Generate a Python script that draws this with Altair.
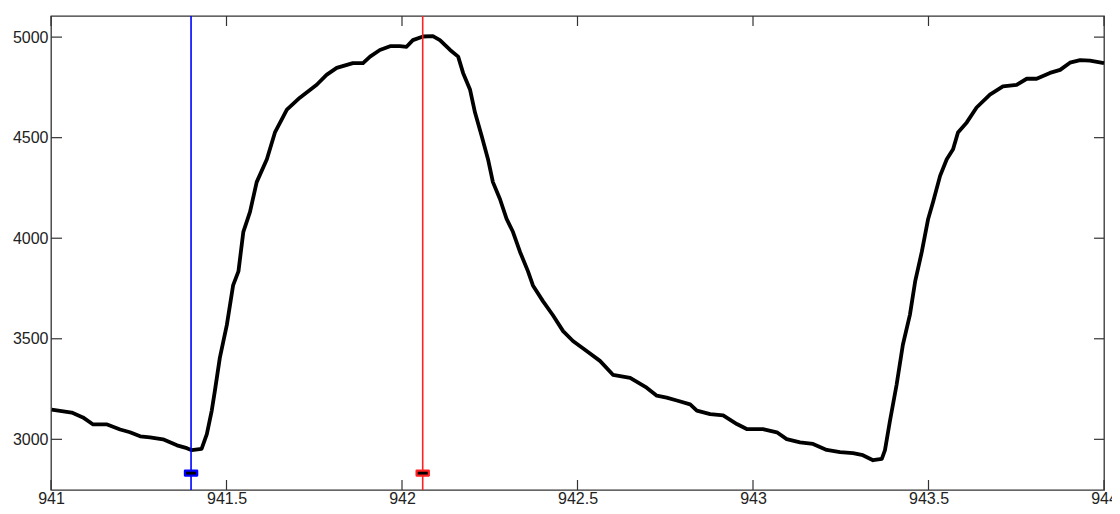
import altair as alt
import pandas as pd

# Trace data (time, value)
t = [941.002, 941.059, 941.091, 941.120, 941.160, 941.197, 941.225, 941.254, 941.282, 941.319,
     941.359, 941.387, 941.401, 941.429, 941.444, 941.458, 941.467, 941.481, 941.501, 941.519,
     941.534, 941.548, 941.567, 941.586, 941.615, 941.638, 941.662, 941.672, 941.709, 941.757,
     941.785, 941.814, 941.860, 941.889, 941.909, 941.937, 941.966, 941.994, 942.013, 942.031,
     942.060, 942.088, 942.108, 942.137, 942.160, 942.174, 942.194, 942.208, 942.227, 942.245,
     942.259, 942.279, 942.298, 942.316, 942.336, 942.359, 942.373, 942.402, 942.430, 942.459,
     942.487, 942.526, 942.564, 942.601, 942.650, 942.697, 942.726, 942.754, 942.783, 942.821,
     942.840, 942.878, 942.915, 942.954, 942.982, 943.028, 943.068, 943.096, 943.134, 943.171,
     943.210, 943.248, 943.285, 943.313, 943.342, 943.367, 943.376, 943.390, 943.409, 943.427,
     943.447, 943.462, 943.481, 943.499, 943.513, 943.533, 943.552, 943.570, 943.584, 943.609,
     943.637, 943.675, 943.712, 943.751, 943.780, 943.808, 943.846, 943.875, 943.903, 943.932,
     943.960, 944.000]
v = [3148, 3133, 3109, 3074, 3074, 3049, 3035, 3015, 3010, 3000,
     2970, 2956, 2946, 2952, 3026, 3143, 3242, 3405, 3569, 3767,
     3835, 4032, 4131, 4279, 4393, 4526, 4606, 4639, 4699, 4763,
     4812, 4847, 4871, 4871, 4903, 4936, 4955, 4955, 4952, 4985,
     5003, 5005, 4985, 4936, 4903, 4822, 4738, 4625, 4508, 4393,
     4279, 4195, 4096, 4032, 3933, 3835, 3765, 3686, 3617, 3538,
     3489, 3439, 3390, 3321, 3306, 3257, 3217, 3207, 3193, 3174,
     3143, 3125, 3119, 3076, 3051, 3051, 3035, 3001, 2985, 2977,
     2947, 2936, 2931, 2921, 2896, 2903, 2946, 3090, 3270, 3470,
     3619, 3785, 3933, 4096, 4180, 4310, 4393, 4442, 4526, 4576,
     4650, 4714, 4755, 4763, 4793, 4793, 4822, 4837, 4873, 4886,
     4883, 4871]

# Cursor positions
cursor_t = [941.399, 942.059]
cursor_color = ["#0000ff", "#ff2020"]
cursor_marker_v = [2832, 2832]

x_ticks = [941, 941.5, 942, 942.5, 943, 943.5, 944]
y_ticks = [3000, 3500, 4000, 4500, 5000]

X_DOMAIN = [941, 944]
Y_DOMAIN = [2748, 5105]

W, H = 1053, 474
TL = 10

trace = pd.DataFrame({"t": t, "v": v})
cursors = pd.DataFrame({"t": cursor_t, "c": cursor_color, "m": cursor_marker_v})
xt = pd.DataFrame({"t": x_ticks})
yt = pd.DataFrame({"v": y_ticks})

label_font = "Liberation Sans"
xscale = alt.Scale(domain=X_DOMAIN, nice=False, zero=False)
yscale = alt.Scale(domain=Y_DOMAIN, nice=False, zero=False)

xaxis = alt.Axis(values=x_ticks, format="~g", grid=False, domain=False, ticks=False, tickSize=0,
                 labelPadding=0, labelFont=label_font, labelFontSize=16, labelColor="#222222",
                 title=None, labelFlush=False, labelOverlap=False)
yaxis = alt.Axis(values=y_ticks, format="d", grid=False, domain=False, ticks=False, tickSize=0,
                 labelPadding=3, labelFont=label_font, labelFontSize=16, labelColor="#222222",
                 title=None, labelOverlap=False)

line = alt.Chart(trace).mark_line(color="black", strokeWidth=3.8, strokeJoin="round").encode(
    x=alt.X("t:Q", scale=xscale, axis=xaxis),
    y=alt.Y("v:Q", scale=yscale, axis=yaxis),
)

vlines = alt.Chart(cursors).mark_rule(strokeWidth=1.6).encode(
    x=alt.X("t:Q", scale=xscale),
    y=alt.value(0),
    y2=alt.value(H),
    color=alt.Color("c:N", scale=None),
)

markers = alt.Chart(cursors).mark_point(
    shape="M-1,-0.4 L1,-0.4 L1,0.4 L-1,0.4 Z", size=150, filled=True, fill="black",
    strokeWidth=2.2, opacity=1, strokeJoin="round",
).encode(
    x=alt.X("t:Q", scale=xscale),
    y=alt.Y("m:Q", scale=yscale),
    stroke=alt.Stroke("c:N", scale=None),
)

tick_style = dict(color="#333333", strokeWidth=1.2)
bt = alt.Chart(xt).mark_rule(**tick_style).encode(
    x=alt.X("t:Q", scale=xscale), y=alt.value(H), y2=alt.value(H - TL))
tt = alt.Chart(xt).mark_rule(**tick_style).encode(
    x=alt.X("t:Q", scale=xscale), y=alt.value(0), y2=alt.value(TL))
lt = alt.Chart(yt).mark_rule(**tick_style).encode(
    y=alt.Y("v:Q", scale=yscale), x=alt.value(0), x2=alt.value(TL + 1))
rt = alt.Chart(yt).mark_rule(**tick_style).encode(
    y=alt.Y("v:Q", scale=yscale), x=alt.value(W), x2=alt.value(W - TL))

chart = alt.layer(line, bt, tt, lt, rt, vlines, markers).properties(
    width=W, height=H,
    autosize=alt.AutoSizeParams(type="none"),
    padding={"left": 43, "top": 8, "right": 8, "bottom": 16},
    background="white",
).configure_view(stroke="#333333", strokeWidth=1.3)

chart.save("out.html", embed_options={"renderer": "svg", "actions": False})
